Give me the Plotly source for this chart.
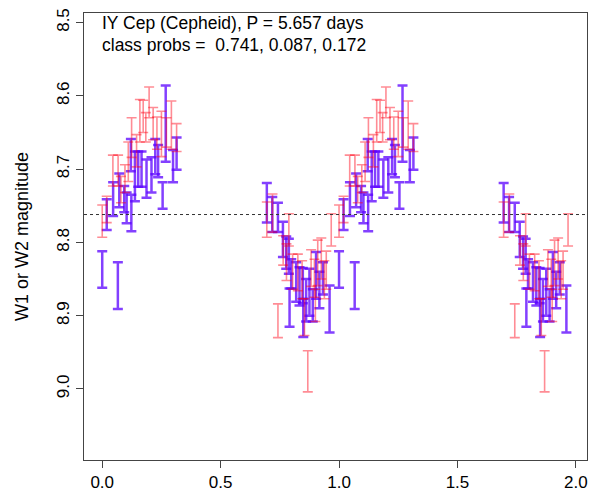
import plotly.graph_objects as go

# ---- data (one cycle of phase; plotted twice: phase and phase+1) ----
w1_phase = [0.000, 0.019, 0.045, 0.067, 0.079, 0.096, 0.110, 0.124, 0.145, 0.159,
            0.173, 0.184, 0.198, 0.215, 0.231, 0.250, 0.271, 0.292, 0.314,
            0.695, 0.719, 0.742, 0.764, 0.778, 0.788, 0.804, 0.826, 0.844, 0.854,
            0.868, 0.882, 0.896, 0.900, 0.910, 0.925, 0.938, 0.946, 0.967]
w1_mag = [8.771, 8.755, 8.702, 8.702, 8.728, 8.713, 8.690, 8.657, 8.675, 8.634,
          8.628, 8.643, 8.609, 8.638, 8.651, 8.652, 8.650, 8.640, 8.657,
          8.769, 8.760, 8.907, 8.811, 8.827, 8.783, 8.840, 8.841, 8.851, 8.902,
          8.976, 8.835, 8.849, 8.886, 8.828, 8.822, 8.851, 8.838, 8.783]
w1_err = [0.022, 0.018, 0.021, 0.021, 0.018, 0.019, 0.027, 0.027, 0.022, 0.029,
          0.022, 0.020, 0.021, 0.022, 0.022, 0.031, 0.020, 0.033, 0.019,
          0.024, 0.026, 0.023, 0.020, 0.025, 0.022, 0.024, 0.025, 0.026, 0.025,
          0.028, 0.025, 0.026, 0.022, 0.031, 0.028, 0.026, 0.026, 0.022]

w2_phase = [0.000, 0.019, 0.046, 0.066, 0.072, 0.093, 0.103, 0.121, 0.123, 0.138,
            0.152, 0.166, 0.187, 0.208, 0.224, 0.236, 0.255, 0.268, 0.299, 0.314,
            0.695, 0.718, 0.742, 0.763, 0.777, 0.788, 0.798, 0.791, 0.819, 0.833,
            0.847, 0.849, 0.861, 0.875, 0.889, 0.903, 0.917, 0.932, 0.960]
w2_mag = [8.837, 8.762, 8.741, 8.859, 8.729, 8.741, 8.753, 8.681, 8.760, 8.710,
          8.700, 8.700, 8.713, 8.708, 8.683, 8.689, 8.736, 8.638, 8.696, 8.679,
          8.746, 8.762, 8.766, 8.796, 8.814, 8.819, 8.843, 8.889, 8.854, 8.860,
          8.859, 8.903, 8.879, 8.868, 8.886, 8.845, 8.865, 8.849, 8.891]
w2_err = [0.025, 0.021, 0.023, 0.032, 0.023, 0.018, 0.021, 0.022, 0.025, 0.034,
          0.024, 0.024, 0.026, 0.024, 0.024, 0.022, 0.018, 0.052, 0.022, 0.022,
          0.027, 0.024, 0.020, 0.024, 0.022, 0.024, 0.020, 0.026, 0.027, 0.026,
          0.024, 0.026, 0.029, 0.032, 0.022, 0.032, 0.025, 0.022, 0.032]

mean_mag = 8.762
x_ticks = [0.0, 0.5, 1.0, 1.5, 2.0]
y_ticks = [8.5, 8.6, 8.7, 8.8, 8.9, 9.0]
title_line1 = "IY Cep (Cepheid), P = 5.657 days"
title_line2 = "class probs =  0.741, 0.087, 0.172"
y_label = "W1 or W2 magnitude"

FONT = "Liberation Sans, Arial, Helvetica, sans-serif"


def doubled(ph, vals):
    return list(ph) + [p + 1 for p in ph], list(vals) + list(vals)


fig = go.Figure()

x1, y1 = doubled(w1_phase, w1_mag)
_, e1 = doubled(w1_phase, w1_err)
x2, y2 = doubled(w2_phase, w2_mag)
_, e2 = doubled(w2_phase, w2_err)

fig.add_trace(go.Scatter(
    x=x2, y=y2, mode="markers",
    marker=dict(size=1, color="rgba(0,0,0,0)"),
    error_y=dict(type="data", array=e2, visible=True,
                 color="rgba(90,0,255,0.75)", thickness=2.5, width=5),
    showlegend=False, hoverinfo="skip"))

fig.add_trace(go.Scatter(
    x=x1, y=y1, mode="markers",
    marker=dict(size=1, color="rgba(0,0,0,0)"),
    error_y=dict(type="data", array=e1, visible=True,
                 color="rgba(255,0,20,0.45)", thickness=1.6, width=5),
    showlegend=False, hoverinfo="skip"))

fig.add_shape(type="line", xref="paper", yref="y", x0=0, x1=1,
              y0=mean_mag, y1=mean_mag,
              line=dict(color="#333333", width=1, dash="3px,3px"))

fig.add_annotation(x=-0.01, y=8.5, xref="x", yref="y", text=title_line1,
                   showarrow=False, xanchor="left", yanchor="middle",
                   font=dict(family=FONT, size=17.5, color="black"))
fig.add_annotation(x=-0.01, y=8.53, xref="x", yref="y", text=title_line2,
                   showarrow=False, xanchor="left", yanchor="middle",
                   font=dict(family=FONT, size=17.5, color="black"))

fig.update_layout(
    width=595, height=499,
    margin=dict(l=84, r=7, t=13, b=37),
    paper_bgcolor="white", plot_bgcolor="white",
    font=dict(family=FONT, size=17, color="black"),
    xaxis=dict(range=[-0.077, 2.047], tickvals=x_ticks,
               ticktext=[f"{v:.1f}" for v in x_ticks],
               ticks="outside", ticklen=7, tickcolor="#444",
               showline=True, mirror=True, linecolor="#444", linewidth=1,
               showgrid=False, zeroline=False,
               tickfont=dict(family=FONT, size=17)),
    yaxis=dict(range=[9.097, 8.487], tickvals=y_ticks,
               ticktext=[f"{v:.1f}" for v in y_ticks], tickangle=-90,
               ticks="outside", ticklen=7, tickcolor="#444",
               showline=True, mirror=True, linecolor="#444", linewidth=1,
               showgrid=False, zeroline=False,
               tickfont=dict(family=FONT, size=17),
               title=dict(text=y_label, font=dict(family=FONT, size=18),
                          standoff=20)),
)

fig.write_html("out.html")
